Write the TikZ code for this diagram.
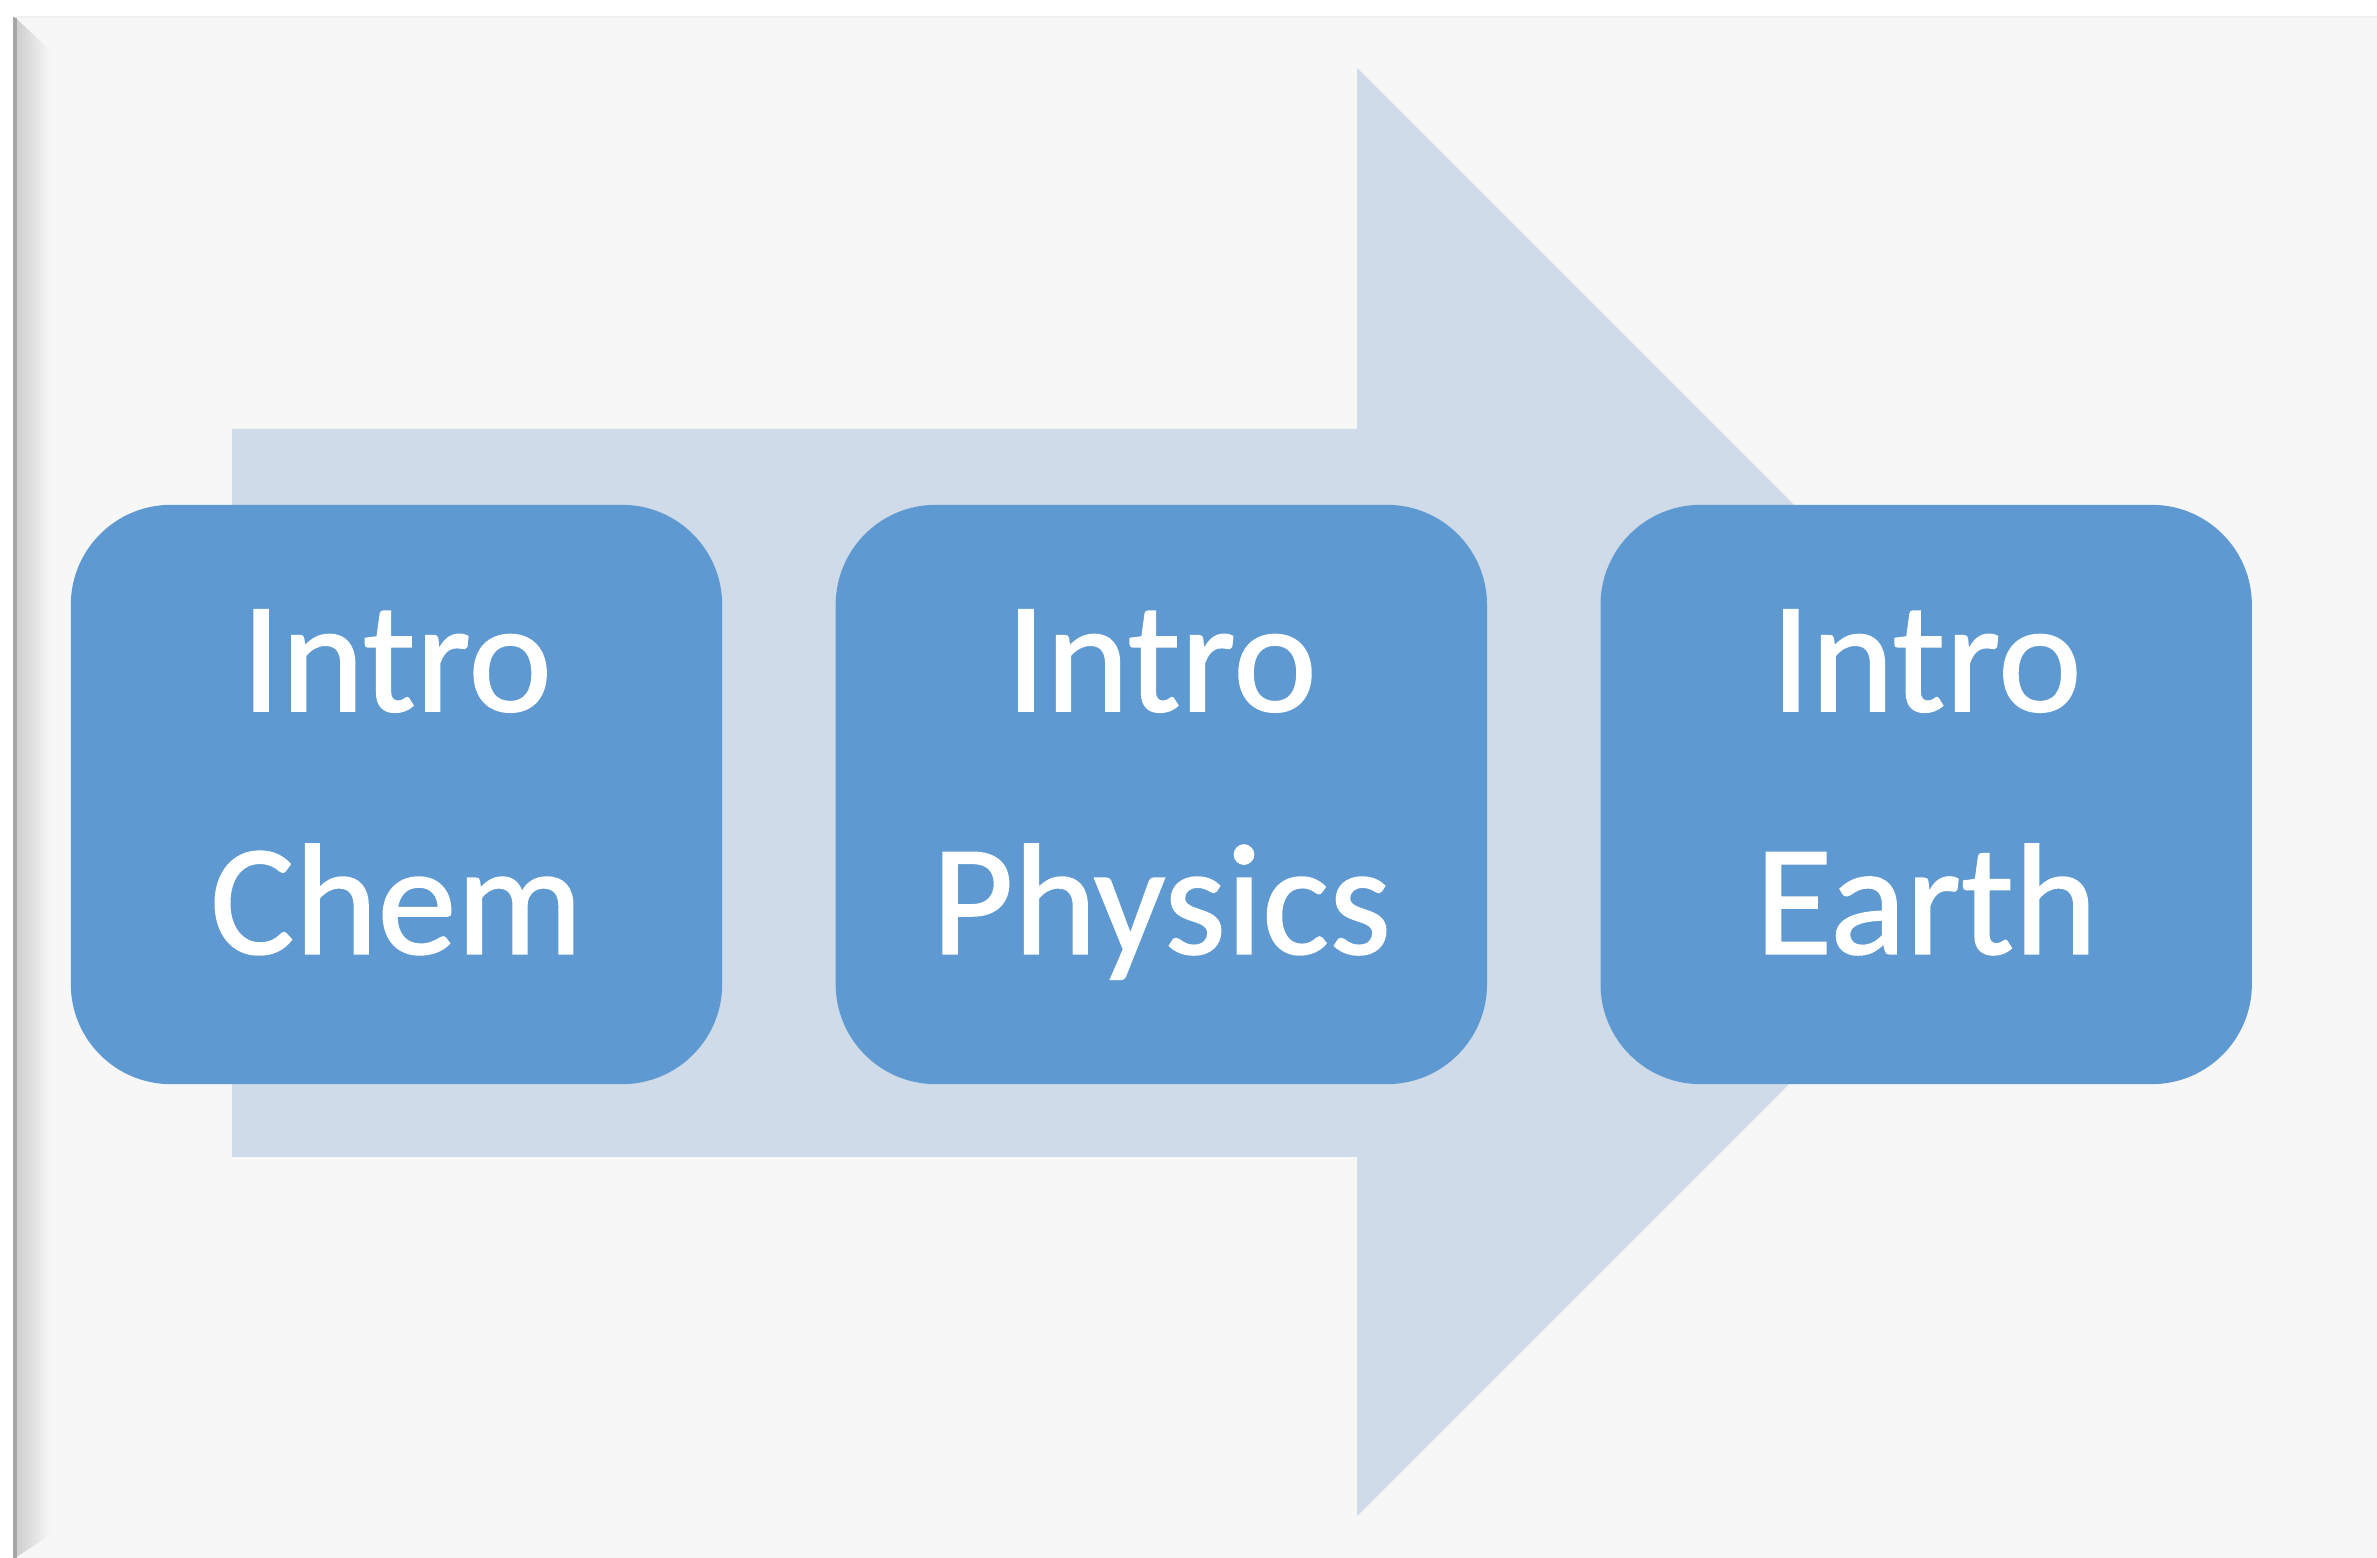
\documentclass[tikz,border=0pt]{standalone}
\usepackage{fontspec}
\setmainfont{Carlito}
\newfontfamily\boxfont{Carlito}[FakeBold=1]
\usetikzlibrary{positioning}
\definecolor{boxblue}{HTML}{5E9AD1}
\definecolor{arrowblue}{HTML}{CFDBE9}
\definecolor{panelgray}{HTML}{F7F7F7}

\begin{document}
\begin{tikzpicture}[
        x=0.01cm, y=-0.01cm,
        course/.style={rectangle, rounded corners=1cm, fill=boxblue, text=white, minimum width=6.51cm, minimum height=5.79cm, inner sep=0pt, align=center, font=\boxfont\fontsize{45}{69}\selectfont}
    ]
    \useasboundingbox (0,0) rectangle (2377,1558);
    \fill[white] (0,0) rectangle (2377,1558);
    % panel with bevelled left edge
    \fill[panelgray] (15,17) rectangle (2377,1558);
    \shade[left color=gray!40, right color=panelgray] (15,17) -- (50,50) -- (50,1535) -- (15,1558) -- cycle;
    \fill[white!97!black] (15,17) -- (2377,17) -- (2350,50) -- (50,50) -- cycle;
    \draw[gray!70, line width=1.2pt] (15,17) -- (15,1558);
    \draw[gray!12] (15,17) -- (2377,17);
    % big arrow behind the boxes
    \fill[arrowblue] (232,429) -- (1357,429) -- (1357,68) -- (2081,792) -- (1357,1516) -- (1357,1157) -- (232,1157) -- cycle;
    
    \node[course] (chem) at (396.5,794.5) {Intro\\Chem\vphantom{y}};
    \node[course, right=1.12cm of chem] (physics) {Intro\\Physics};
    \node[course, right=1.12cm of physics] (earth) {Intro\\Earth\vphantom{y}};
    
\end{tikzpicture}
\end{document}
